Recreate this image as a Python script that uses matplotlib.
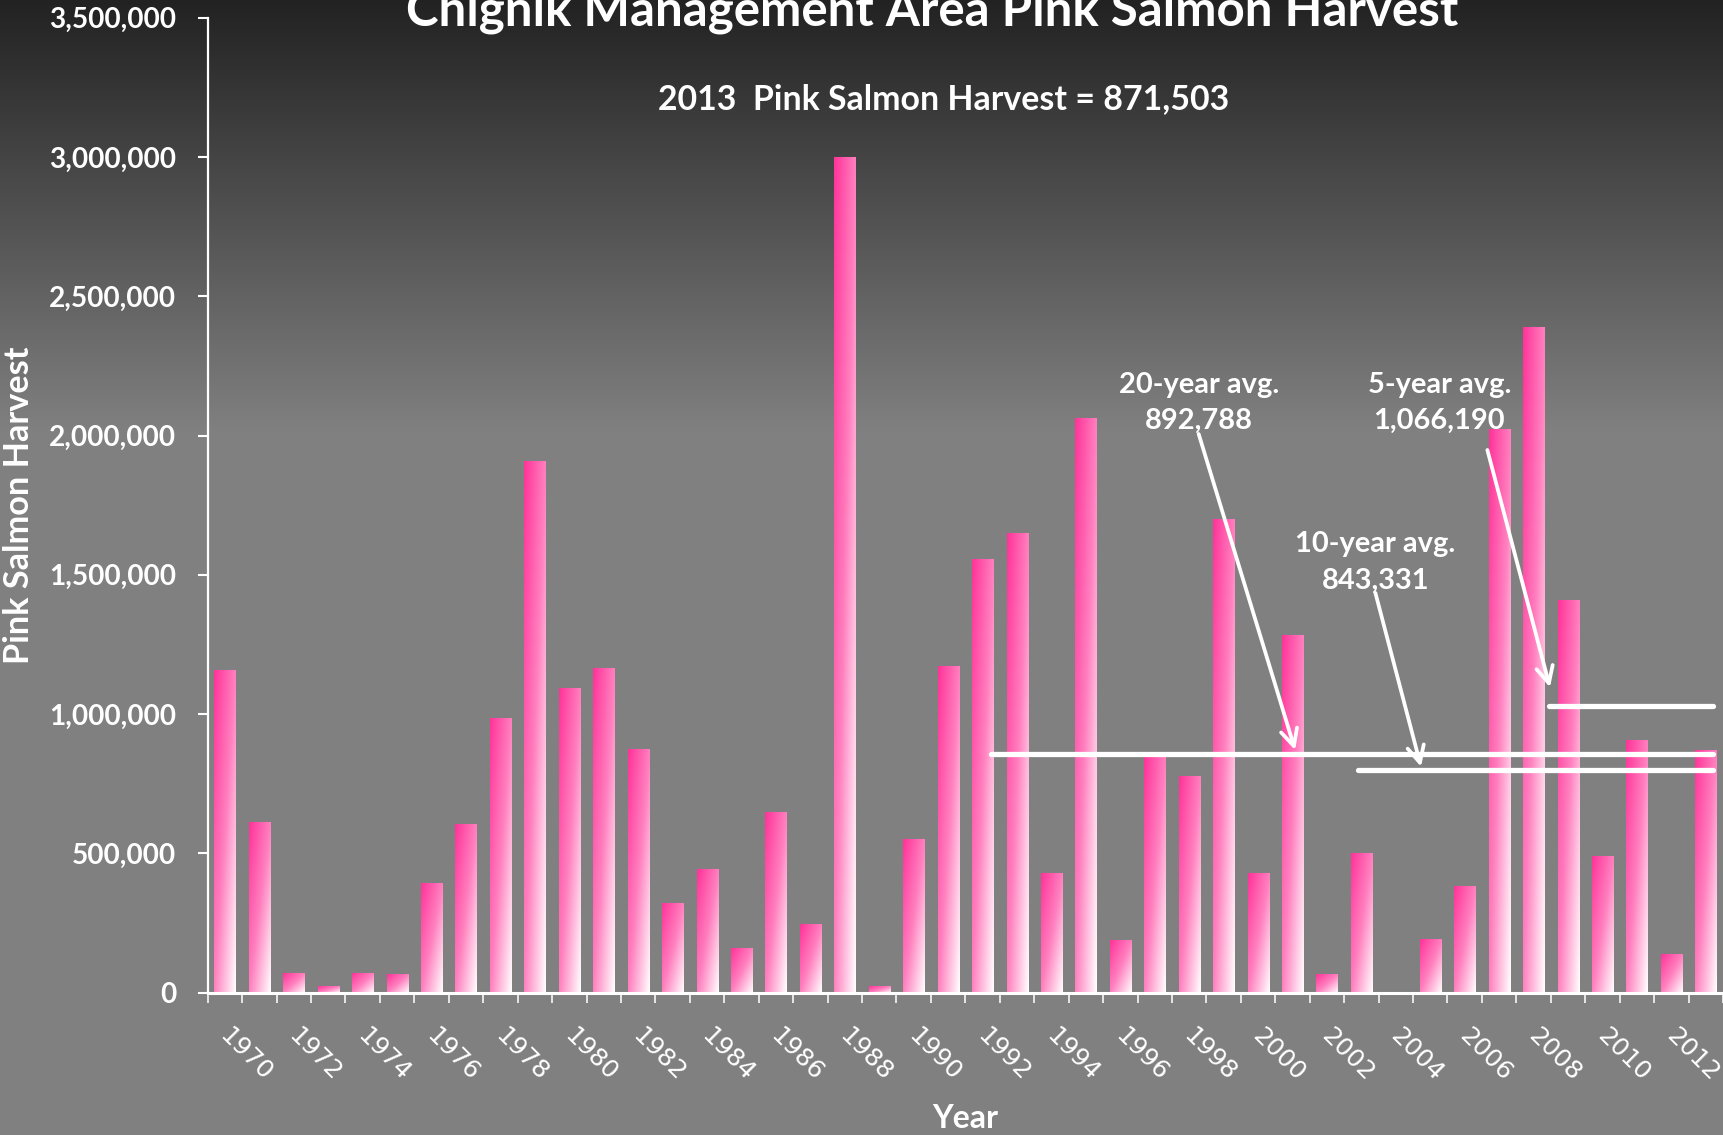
import numpy as np
import matplotlib
matplotlib.use("Agg")
import matplotlib.pyplot as plt
from matplotlib.colors import LinearSegmentedColormap
from matplotlib.transforms import ScaledTranslation
from matplotlib.ticker import StrMethodFormatter

# ---------------- data ----------------
years = list(range(1970, 2014))
harvest = [1158000, 612700, 69600, 24000, 69600, 67000, 393700, 605500, 986000, 1906700,
           1093700, 1165500, 873600, 321000, 443000, 159000, 648000, 246000, 3000000, 25000,
           550000, 1173000, 1555000, 1650000, 428000, 2064000, 189000, 846000, 778000, 1701000,
           429000, 1284000, 68000, 501000, 1000, 192000, 384000, 2024000, 2391000, 1409000,
           490000, 906000, 139000, 871503]
tick_years = [str(y) for y in years[::2]]
yticks = [0, 500000, 1000000, 1500000, 2000000, 2500000, 3000000, 3500000]

title = "Chignik Management Area Pink Salmon Harvest"
subtitle = "2013  Pink Salmon Harvest = 871,503"
avg_names = ["20-year avg.", "10-year avg.", "5-year avg."]
avg_labels = ["892,788", "843,331", "1,066,190"]
# levels at which the average bars are drawn in the picture
avg_levels = [857000, 799000, 1030000]
avg_start = [1992.24, 2002.89, 2008.45]
avg_end = [2013.2, 2013.2, 2013.2]

# ---------------- figure ----------------
W, H = 1723, 1135
fig = plt.figure(figsize=(W / 100, H / 100), dpi=100)
renderer = fig.canvas.get_renderer()

def fx(x):
    return x / W

def fy(y):
    return 1 - y / H

BOLD = "Lato"

def fit_size(text, family, weight, target, ref=20):
    t = fig.text(0, 0, text, fontsize=ref, family=family, weight=weight)
    w = t.get_window_extent(renderer).width
    t.remove()
    return ref * target / w

# background gradient
bg = fig.add_axes([0, 0, 1, 1])
bg.set_axis_off()
rows = np.arange(H)
gray = np.where(rows < 430, 34 + (128 - 34) * rows / 430.0, 128) / 255.0
img = np.repeat(gray[:, None], 4, axis=1)
bg.imshow(np.dstack([img, img, img]), aspect="auto", extent=(0, 1, 0, 1), origin="upper")
bg.set_xlim(0, 1)
bg.set_ylim(0, 1)

# main axes
x0p, y0p, ytop = 207.7, 992.7, 17.6
ax = fig.add_axes([fx(x0p), (H - y0p) / H, (W - x0p) / W, (y0p - ytop) / H])
ax.set_facecolor("none")

idx = np.arange(len(years))
bars = ax.bar(idx, harvest, width=0.61, color="none", edgecolor="none")

cmap = LinearSegmentedColormap.from_list("pinkgrad", ["#ff3399", "#ff80bf", "#ffffff"])
n = 80
u = np.linspace(0, 1, n)
G = (u[None, :] + u[:, None]) / 2.0
for p in bars:
    bx, bw, bh = p.get_x(), p.get_width(), p.get_height()
    im = ax.imshow(G, cmap=cmap, vmin=0, vmax=1, extent=(bx, bx + bw, 0, bh),
                   origin="upper", aspect="auto", interpolation="bilinear", zorder=2)
    im.set_clip_path(p)

ax.set_xlim(-0.5, len(years) - 0.5)
ax.set_ylim(0, 3500000)
ax.set_aspect("auto")

for s in ["top", "right"]:
    ax.spines[s].set_visible(False)
ax.spines["left"].set_color("white")
ax.spines["left"].set_linewidth(1.6)
ax.spines["bottom"].set_color("white")
ax.spines["bottom"].set_linewidth(2.2)
ax.spines["bottom"].set_zorder(5)

# y ticks
ysize = fit_size("3,500,000", BOLD, "bold", 128)
ax.set_yticks(yticks)
ax.yaxis.set_major_formatter(StrMethodFormatter("{x:,.0f}"))
ax.tick_params(axis="y", direction="out", length=7.2, width=1.5, color="white",
               labelcolor="white", labelsize=ysize, pad=15.6)
for lab in ax.get_yticklabels():
    lab.set_fontfamily(BOLD)
    lab.set_fontweight("bold")

# x ticks
ax.set_xticks(idx[::2])
ax.set_xticklabels(tick_years)
ax.set_xticks(np.arange(-0.5, len(years), 1.0), minor=True)
ax.tick_params(axis="x", which="major", length=0, pad=22, labelcolor="white", labelsize=18)
ax.tick_params(axis="x", which="minor", direction="out", length=7.2, width=1.3, color="#eeeeee")
off = ScaledTranslation(-10 / 100, 0, fig.dpi_scale_trans)
for lab in ax.get_xticklabels():
    lab.set_fontfamily("DejaVu Sans")
    lab.set_rotation(-45)
    lab.set_ha("left")
    lab.set_va("top")
    lab.set_rotation_mode("default")
    lab.set_transform(lab.get_transform() + off)

# averages
def val(y):
    return (y0p - y) / 139.3 * 500000

def ix(x):
    return (x - x0p) / 34.45 - 0.5

for lvl, s0, s1 in zip(avg_levels, avg_start, avg_end):
    ax.plot([s0 - years[0], s1 - years[0]], [lvl, lvl], color="white", lw=3.8,
            solid_capstyle="round", zorder=4)

asize = fit_size("20-year avg.", BOLD, "bold", 160)
text_pos = [(1199, 385, 421), (1375.8, 544, 581), (1439.6, 385, 421)]
arrows = [((1199, 434), (1295.5, 750)), ((1375.8, 593), (1421.4, 766.7)),
          ((1487.8, 450), (1550.4, 687.3))]
for name, lab, (tx, ty1, ty2), (st, tp) in zip(avg_names, avg_labels, text_pos, arrows):
    ax.text(ix(tx), val(ty1), name, ha="center", va="center", color="white",
            fontsize=asize, family=BOLD, weight="bold", zorder=6)
    ax.text(ix(tx), val(ty2), lab, ha="center", va="center", color="white",
            fontsize=asize, family=BOLD, weight="bold", zorder=6)
    ax.annotate("", xy=(ix(tp[0]), val(tp[1])), xytext=(ix(st[0]), val(st[1])),
                arrowprops=dict(arrowstyle="->,head_length=0.6,head_width=0.3",
                                color="white", lw=2.7, mutation_scale=20,
                                shrinkA=0, shrinkB=0), zorder=6)

# titles and labels
tsize = fit_size(title, BOLD, "bold", 1051)
fig.text(fx(932.5), fy(25), title, ha="center", va="baseline", color="white",
         fontsize=tsize, family=BOLD, weight="bold")
ssize = fit_size(subtitle, BOLD, "bold", 570)
fig.text(fx(944), fy(99), subtitle, ha="center", va="center", color="white",
         fontsize=ssize, family=BOLD, weight="bold")
lsize = fit_size("Pink Salmon Harvest", BOLD, "bold", 317)
fig.text(fx(19), fy(505), "Pink Salmon Harvest", ha="center", va="center", rotation=90,
         color="white", fontsize=lsize, family=BOLD, weight="bold")
xsize = fit_size("Year", BOLD, "bold", 66)
fig.text(fx(965), fy(1119), "Year", ha="center", va="center", color="white",
         fontsize=xsize, family=BOLD, weight="bold")

fig.savefig("out.png", dpi=100)
